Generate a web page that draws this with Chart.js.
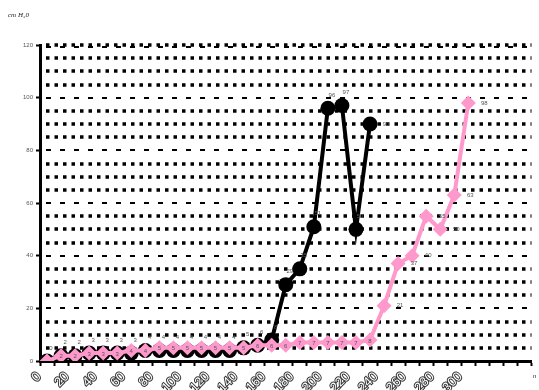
<!DOCTYPE html>
<html><head><meta charset="utf-8">
<script src="https://cdn.jsdelivr.net/npm/chart.js@4/dist/chart.umd.min.js"></script>
<style>html,body{margin:0;padding:0;background:#fff;}#wrap{width:539px;height:390px;position:relative;}</style>
</head><body><div id="wrap"><canvas id="c" width="539" height="390"></canvas></div>
<script>
// categories (minutes), one every 10
const categories = [0,10,20,30,40,50,60,70,80,90,100,110,120,130,140,150,160,170,180,190,200,210,220,230,240,250,260,270,280,290,300,310,320,330,340];
// tick labels shown under the axis
const xTickLabels = ['0','','20','','40','','60','','80','','100','','120','','140','','160','','180','','200','','220','','240','','260','','280','','300','','','',''];
const yTicks = [0,20,40,60,80,100,120];
// pink series (diamonds)
const pinkValues = [0,2,2,3,3,3,4,4,5,5,5,5,5,5,5,6,6,6,7,7,7,7,7,8,21,37,40,55,50,63,98];
// black series (circles)
const blackValues = [0,2,2,3,3,3,3,4,4,4,4,4,4,4,5,6,8,29,35,51,96,97,50,90];
const yUnit = 'cm H\u20820';
const xUnit = 'n';

const FONT = "Arial, 'Liberation Sans', sans-serif";

const gridPlugin = {
  id: 'dotgrid',
  beforeDatasetsDraw(chart) {
    const {ctx, chartArea: a, scales: {y}} = chart;
    ctx.save();
    ctx.strokeStyle = '#000';
    for (let v = 5; v <= 120; v += 5) {
      const py = Math.round(y.getPixelForValue(v));
      if (v % 20 !== 0 || v === 120) {
        ctx.beginPath();
        ctx.setLineDash([3.5, 5]);
        ctx.lineWidth = 3.5;
        ctx.moveTo(a.left + 6, py); ctx.lineTo(a.right, py); ctx.stroke();
      }
      if (v % 20 === 0) {
        ctx.beginPath();
        ctx.setLineDash([5, 9]);
        ctx.lineWidth = 2;
        ctx.moveTo(a.left + 6, py + (v === 120 ? 2 : 0)); ctx.lineTo(a.right, py + (v === 120 ? 2 : 0)); ctx.stroke();
      }
    }
    ctx.restore();
  }
};

const labelPlugin = {
  id: 'vlabels',
  afterDatasetsDraw(chart) {
    const ctx = chart.ctx;
    ctx.save();
    ctx.font = '6px ' + FONT;
    ctx.fillStyle = '#555';
    ctx.textAlign = 'center';
    ctx.textBaseline = 'middle';
    const mb = chart.getDatasetMeta(1);
    mb.data.forEach((pt, i) => {
      const last = i === blackValues.length - 1;
      ctx.fillText(String(blackValues[i]), pt.x + (last ? 16 : 4), pt.y + (last ? 0 : -13));
    });
    const mp = chart.getDatasetMeta(0);
    mp.data.forEach((pt, i) => {
      if (i === 0) return;
      const right = i >= 24;
      ctx.fillText(String(pinkValues[i]), pt.x + (right ? 16 : 0), pt.y + (right ? 0 : 1));
    });
    ctx.restore();
  },
  afterDraw(chart) {
    const ctx = chart.ctx;
    ctx.save();
    ctx.fillStyle = '#222';
    ctx.font = 'italic 7px "Liberation Serif", serif';
    ctx.textAlign = 'left';
    ctx.textBaseline = 'middle';
    ctx.fillText(yUnit, 8, 15);
    ctx.font = '6px ' + FONT;
    ctx.fillText(xUnit, 533, 376);
    ctx.restore();
  }
};

new Chart(document.getElementById('c'), {
  type: 'line',
  data: {
    labels: xTickLabels,
    datasets: [
      {data: pinkValues, borderColor: '#ff99cc', backgroundColor: '#ff99cc', borderWidth: 4,
       pointStyle: 'rectRot', pointRadius: 7.5, pointBorderWidth: 0, pointBackgroundColor: '#ff99cc', tension: 0},
      {data: blackValues, borderColor: '#000', backgroundColor: '#000', borderWidth: 4,
       pointStyle: 'circle', pointRadius: 7.5, pointBorderWidth: 0, pointBackgroundColor: '#000', tension: 0}
    ]
  },
  options: {
    responsive: false, animation: false, devicePixelRatio: 1, events: [],
    layout: {padding: {top: 45, right: 2, left: 0, bottom: 0}},
    plugins: {legend: {display: false}, tooltip: {enabled: false}, title: {display: false}},
    scales: {
      x: {
        offset: true,
        grid: {display: true, drawOnChartArea: false, offset: true, tickLength: 5, tickWidth: 2, color: '#000'},
        border: {display: true, width: 3, color: '#000'},
        ticks: {autoSkip: false, minRotation: 45, maxRotation: 45, font: {size: 13, family: FONT},
                color: '#fff', textStrokeColor: '#333', textStrokeWidth: 2, padding: 3, labelOffset: -8},
        afterFit(s) { s.height = 29; s.paddingLeft = 0; s.paddingRight = 0; }
      },
      y: {
        min: 0, max: 120,
        afterBuildTicks(s) { s.ticks = yTicks.map(v => ({value: v})); },
        ticks: {font: {size: 6, family: FONT}, color: '#555', padding: 3},
        grid: {display: true, drawOnChartArea: false, tickLength: 4, tickWidth: 2, color: '#000'},
        border: {display: true, width: 3, color: '#000'},
        afterFit(s) { s.width = 40; s.paddingTop = 0; s.paddingBottom = 0; }
      }
    }
  },
  plugins: [gridPlugin, labelPlugin]
});
</script>
</body></html>
